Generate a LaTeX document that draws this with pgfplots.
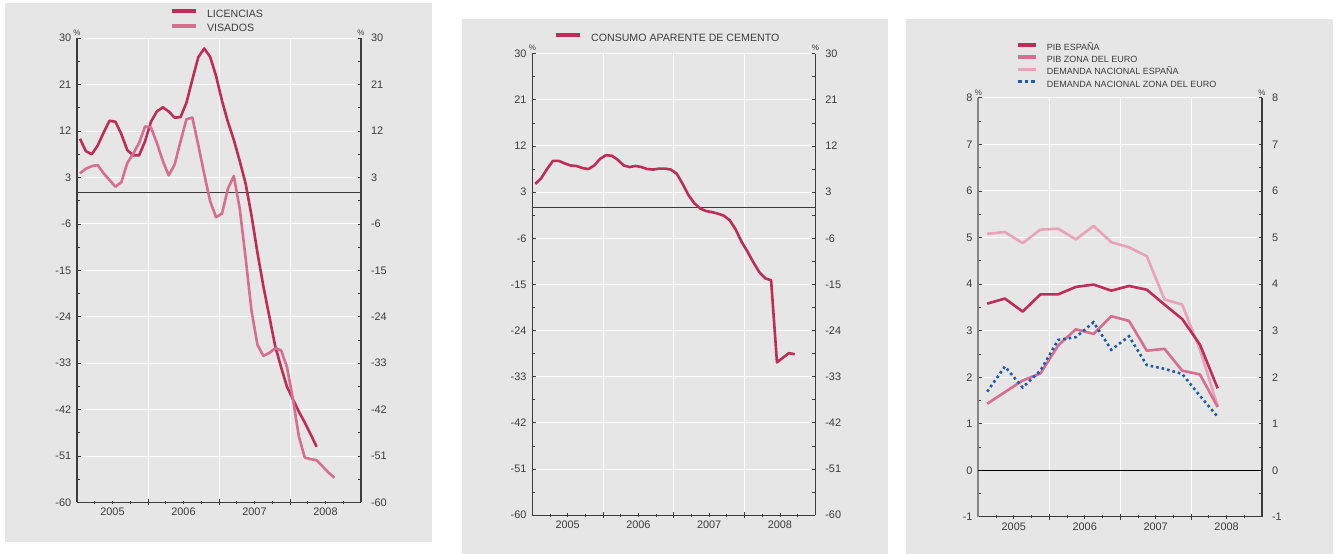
\documentclass[border=0pt]{standalone}
\usepackage{fontspec}
\setmainfont{Liberation Sans}
\usepackage{pgfplots}
\usepackage{pgfplotstable}
\pgfplotsset{compat=1.18}
\definecolor{bg}{HTML}{E6E6E6}
\definecolor{cdark}{HTML}{BE2D58}
\definecolor{cmed}{HTML}{D66E8F}
\definecolor{clight}{HTML}{E9A3B8}
\definecolor{cblue}{HTML}{1F5BAA}
\definecolor{txt}{HTML}{3C3C3C}
\definecolor{gaxis}{HTML}{858585}

\pgfplotstableread{
x y
0.5 10.5
1.5 8.1
2.5 7.5
3.5 9.2
4.5 11.7
5.5 14.0
6.5 13.8
7.5 11.4
8.5 8.3
9.5 7.3
10.5 7.3
11.5 10.0
12.5 13.8
13.5 15.8
14.5 16.6
15.5 15.8
16.5 14.6
17.5 14.7
18.5 17.5
19.5 22.0
20.5 26.3
21.5 28.0
22.5 26.4
23.5 22.7
24.5 17.9
25.5 13.8
26.5 10.3
27.5 6.2
28.5 1.8
29.5 -4.4
30.5 -11.6
31.5 -18.1
32.5 -23.9
33.5 -29.7
34.5 -33.8
35.5 -37.6
36.5 -40.0
37.5 -42.4
38.5 -44.5
39.5 -46.8
40.5 -49.2
}\licencias

\pgfplotstableread{
x y
0.5 3.8
1.5 4.7
2.5 5.2
3.5 5.4
4.5 3.8
5.5 2.5
6.5 1.2
7.5 2.1
8.5 5.8
9.5 7.6
10.5 9.7
11.5 12.9
12.5 12.7
13.5 9.7
14.5 6.2
15.5 3.4
16.5 5.5
17.5 10.0
18.5 14.3
19.5 14.6
20.5 9.3
21.5 3.7
22.5 -1.6
23.5 -4.7
24.5 -4.0
25.5 0.8
26.5 3.3
27.5 -3.0
28.5 -12.6
29.5 -22.9
30.5 -29.4
31.5 -31.6
32.5 -31.0
33.5 -30.1
34.5 -30.5
35.5 -33.8
36.5 -40.0
37.5 -47.2
38.5 -51.3
39.5 -51.6
40.5 -51.8
41.5 -53.0
42.5 -54.2
43.5 -55.2
}\visados

\pgfplotstableread{
x y
0.5 4.6
1.5 5.7
2.5 7.5
3.5 9.1
4.5 9.1
5.5 8.6
6.5 8.2
7.5 8.1
8.5 7.7
9.5 7.5
10.5 8.2
11.5 9.5
12.5 10.2
13.5 10.1
14.5 9.3
15.5 8.2
16.5 7.9
17.5 8.1
18.5 7.9
19.5 7.5
20.5 7.4
21.5 7.6
22.5 7.6
23.5 7.4
24.5 6.6
25.5 4.6
26.5 2.4
27.5 0.8
28.5 -0.2
29.5 -0.7
30.5 -0.9
31.5 -1.2
32.5 -1.6
33.5 -2.5
34.5 -4.3
35.5 -6.7
36.5 -8.6
37.5 -10.7
38.5 -12.6
39.5 -13.8
40.5 -14.2
41.5 -30.2
42.5 -29.3
43.5 -28.4
44.5 -28.6
}\cemento

\pgfplotstableread{
x pibes pibez demes demez
1.5 3.58 1.43 5.08 1.69
4.5 3.69 1.68 5.12 2.23
7.5 3.41 1.93 4.88 1.78
10.5 3.78 2.08 5.17 2.14
13.5 3.78 2.68 5.19 2.80
16.5 3.94 3.03 4.96 2.86
19.5 3.99 2.93 5.25 3.18
22.5 3.86 3.31 4.90 2.59
25.5 3.96 3.21 4.79 2.88
28.5 3.88 2.57 4.60 2.26
31.5 3.56 2.61 3.67 2.18
34.5 3.25 2.14 3.56 2.07
37.5 2.70 2.06 2.59 1.60
40.5 1.76 1.36 1.38 1.15
}\pib

\tikzset{pct/.style={font=\fontsize{8bp}{9bp}\selectfont, text=txt, anchor=south, inner sep=0pt, yshift=2.5bp}}

\pgfplotsset{
  panel/.style={
    scale only axis, anchor=south west, clip mode=individual,
    xmin=0, xmax=48, enlargelimits=false,
    axis x line=bottom, axis y line=box,
    every outer x axis line/.append style={-},
    every outer y axis line/.append style={-},
    x axis line style={-, draw=txt, line width=1.1bp},
    y axis line style={-, draw=txt, line width=1.1bp},
    xtick={6,18,30,42}, xticklabels={2005,2006,2007,2008},
    minor xtick={3,9,15,21,27,33,39,45},
    extra x ticks={12,24,36}, extra x tick labels={},
    extra x tick style={major tick length=6bp, grid=major, major grid style={white, line width=1bp}},
    ymajorgrids=true, major grid style={white, line width=1bp},
    major tick length=3.5bp, minor tick length=3bp,
    tick style={draw=txt, line width=0.8bp},
    tick label style={font=\fontsize{10.9bp}{12bp}\selectfont, text=txt},
    yticklabel style={xshift=-2.3bp},
    xticklabel style={yshift=-0.5bp},
    /pgf/number format/assume math mode=true,
    legend cell align=left,
    legend image code/.code={\draw[##1, line width=4bp] (0bp,0.3em) -- (24bp,0.3em);},
  },
  rpanel/.style={
    scale only axis, anchor=south west,
    xmin=0, xmax=48, enlargelimits=false,
    axis x line=none, axis y line*=right,
    y axis line style={draw=none},
    major tick length=0pt, minor tick length=0pt,
    tick label style={font=\fontsize{10.9bp}{12bp}\selectfont, text=txt},
    yticklabel style={xshift=6.5bp},
    /pgf/number format/assume math mode=true,
  },
}

\begin{document}
\begin{tikzpicture}[x=1bp,y=1bp]
\path[use as bounding box, fill=white] (0,0) rectangle (1339,554);
\fill[bg] (5,12) rectangle (432,550.5);
\fill[bg] (462.3,0) rectangle (888.3,534.6);
\fill[bg] (906,0) rectangle (1332.7,534.6);

% Panel 1
\begin{axis}[panel, at={(77bp,51.5bp)}, width=284bp, height=464.3bp,
  ymin=-60, ymax=30, ytick={-60,-51,...,30}, minor y tick num=1,
  extra y ticks={0}, extra y tick labels={},
  extra y tick style={major tick length=0pt, grid=major, major grid style={txt, line width=1bp}},
  legend style={at={(0.327,1.0627)}, anchor=north west, draw=none, fill=none, inner sep=0pt,
    font=\fontsize{10.6bp}{12bp}\selectfont, text=txt, column sep=9bp, row sep=4.4bp,
    nodes={inner sep=0pt, text height=8bp, text depth=2bp}},
]
\addplot[cdark, line width=2.6bp, line join=round] table[x=x,y=y] {\licencias};
\addlegendentry{LICENCIAS}
\addplot[cmed, line width=2.6bp, line join=round] table[x=x,y=y] {\visados};
\addlegendentry{VISADOS}
\node[pct] at (rel axis cs:0,1) {\%};
\node[pct] at (rel axis cs:1,1) {\%};
\end{axis}
\begin{axis}[rpanel, at={(77bp,51.5bp)}, width=284bp, height=464.3bp,
  ymin=-60, ymax=30, ytick={-60,-51,...,30}]
\end{axis}

% Panel 2
\begin{axis}[panel, at={(532.3bp,38.8bp)}, width=283bp, height=461.5bp,
  ymin=-60, ymax=30, ytick={-60,-51,...,30}, minor y tick num=1,
  extra y ticks={0}, extra y tick labels={},
  extra y tick style={major tick length=0pt, grid=major, major grid style={txt, line width=1bp}},
  legend style={at={(0.0767,1.0446)}, anchor=north west, draw=none, fill=none, inner sep=0pt,
    font=\fontsize{10.6bp}{12bp}\selectfont, text=txt, column sep=9bp,
    nodes={inner sep=0pt, text height=8bp, text depth=2bp}},
]
\addplot[cdark, line width=2.6bp, line join=round] table[x=x,y=y] {\cemento};
\addlegendentry{CONSUMO APARENTE DE CEMENTO}
\node[pct] at (rel axis cs:0,1) {\%};
\node[pct] at (rel axis cs:1,1) {\%};
\end{axis}
\begin{axis}[rpanel, at={(532.3bp,38.8bp)}, width=283bp, height=461.5bp,
  ymin=-60, ymax=30, ytick={-60,-51,...,30}]
\end{axis}

% Panel 3
\begin{axis}[panel, at={(978.3bp,37.1bp)}, width=283.7bp, height=419bp,
  ymin=-1, ymax=8, ytick={-1,0,...,8}, minor y tick num=1,
  y axis line style={-, draw=gaxis, line width=1.8bp},
  extra y ticks={0}, extra y tick labels={},
  extra y tick style={major tick length=0pt, grid=major, major grid style={black, line width=1.1bp}},
  legend image code/.code={\draw[#1, line width=3.5bp] (0bp,0.3em) -- (18bp,0.3em);},
  legend style={at={(0.133,1.1313)}, anchor=north west, draw=none, fill=none, inner sep=0pt,
    font=\fontsize{9bp}{10bp}\selectfont, text=txt, column sep=9bp, row sep=3.1bp,
    nodes={inner sep=0pt, text height=7bp, text depth=1.8bp}},
]
\addplot[clight, line width=2.6bp, line join=round, forget plot] table[x=x,y=demes] {\pib};
\addplot[cmed, line width=2.6bp, line join=round, forget plot] table[x=x,y=pibez] {\pib};
\addplot[cdark, line width=2.6bp, line join=round, forget plot] table[x=x,y=pibes] {\pib};
\addplot[cblue, line width=2.6bp, dash pattern=on 2.6bp off 3bp, forget plot] table[x=x,y=demez] {\pib};
\addlegendimage{cdark}
\addlegendentry{PIB ESPAÑA}
\addlegendimage{cmed}
\addlegendentry{PIB ZONA DEL EURO}
\addlegendimage{clight}
\addlegendentry{DEMANDA NACIONAL ESPAÑA}
\addlegendimage{cblue, dash pattern=on 3.5bp off 3bp}
\addlegendentry{DEMANDA NACIONAL ZONA DEL EURO}
\node[pct] at (rel axis cs:0,1) {\%};
\node[pct] at (rel axis cs:1,1) {\%};
\end{axis}
\begin{axis}[rpanel, at={(978.3bp,37.1bp)}, width=283.7bp, height=419bp,
  ymin=-1, ymax=8, ytick={-1,0,...,8},
  y axis line style={-, draw=txt, line width=1.1bp}]
\end{axis}
\end{tikzpicture}
\end{document}
